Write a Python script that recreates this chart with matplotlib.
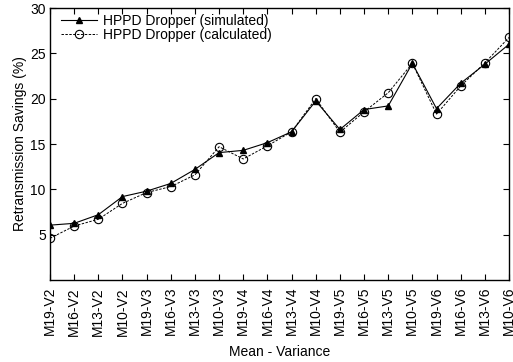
import matplotlib
matplotlib.use("Agg")
import matplotlib.pyplot as plt
import numpy as np

plt.rcParams["font.family"] = ["Liberation Sans", "DejaVu Sans"]

# ── Data ──────────────────────────────────────────────────────────────────────

CATEGORIES = [
    "M19-V2", "M16-V2", "M13-V2", "M10-V2",
    "M19-V3", "M16-V3", "M13-V3", "M10-V3",
    "M19-V4", "M16-V4", "M13-V4", "M10-V4",
    "M19-V5", "M16-V5", "M13-V5", "M10-V5",
    "M19-V6", "M16-V6", "M13-V6", "M10-V6",
]

SIMULATED = [6.05, 6.25, 7.2, 9.2, 9.8, 10.65, 12.2, 14.05, 14.3, 15.15,
             16.35, 19.75, 16.6, 18.8, 19.2, 23.9, 18.9, 21.7, 23.8, 26.0]

CALCULATED = [4.6, 5.95, 6.7, 8.45, 9.65, 10.3, 11.6, 14.7, 13.35, 14.8,
              16.35, 20.0, 16.3, 18.55, 20.65, 23.9, 18.3, 21.4, 23.95, 26.75]

YTICKS = [5, 10, 15, 20, 25, 30]

# ── Plot ──────────────────────────────────────────────────────────────────────

fig = plt.figure(figsize=(5.13, 3.62), dpi=100)
ax = fig.add_axes([50 / 513, 82 / 362, 459 / 513, 272 / 362])

x = np.arange(len(CATEGORIES))
ax.plot(x, SIMULATED, color="black", lw=0.8, marker="^", ms=4,
        label="HPPD Dropper (simulated)")
ax.plot(x, CALCULATED, color="black", lw=0.7, ls=(0, (2.5, 1.5)), marker="o",
        ms=6, mfc="none", mew=0.8, label="HPPD Dropper (calculated)")

ax.set_xlim(0, len(CATEGORIES) - 1)
ax.set_ylim(0, 30)
ax.set_xticks(x)
ax.set_xticklabels(CATEGORIES, rotation=90, fontsize=10)
ax.set_yticks(YTICKS)
ax.tick_params(axis="y", labelsize=10, pad=3)
ax.tick_params(axis="x", pad=5)
ax.tick_params(direction="in", length=4, width=0.8, top=True, right=True)
for sp in ax.spines.values():
    sp.set_linewidth(1.0)

ax.set_xlabel("Mean - Variance", fontsize=10, labelpad=7)
ax.set_ylabel("Retransmission Savings (%)", fontsize=10, labelpad=2)

ax.legend(loc="upper left", frameon=False, fontsize=10, handlelength=2.6,
          handletextpad=0.4, borderaxespad=0.0, labelspacing=0.0,
          bbox_to_anchor=(0.012, 1.0))

fig.savefig("out.png", dpi=100)
